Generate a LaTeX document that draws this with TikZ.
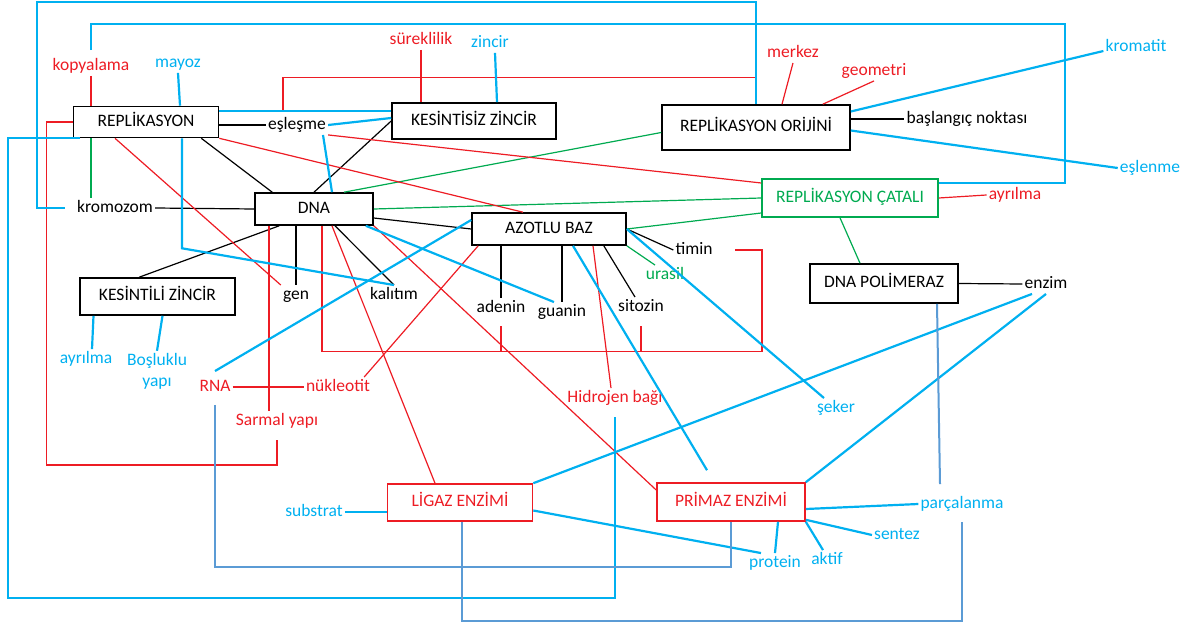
\documentclass[tikz,border=0pt]{standalone}
\usepackage{fontspec}
\setmainfont{Carlito}
\definecolor{kirmizi}{RGB}{237,28,36}
\definecolor{mavi}{RGB}{0,176,240}
\definecolor{yesil}{RGB}{0,170,80}
\definecolor{koyumavi}{RGB}{91,155,213}
\begin{document}
\begin{tikzpicture}[x=1pt, y=-1pt,
    every node/.style={font=\fontsize{17.5}{21}\selectfont, inner sep=2pt, text height=12pt, text depth=3.5pt},
    kutu/.style={draw, line width=1.6pt, inner sep=0pt},
    siyah/.style={line width=1.2pt},
    kcizgi/.style={kirmizi, line width=1.2pt},
    ycizgi/.style={yesil, line width=1.2pt},
    mcizgi/.style={mavi, line width=2.2pt},
    kmcizgi/.style={koyumavi, line width=2pt}]
    \useasboundingbox (0,0) rectangle (1190,628);
    \node[kutu, minimum width=145pt, minimum height=31pt] (repl) at (146,122) {REPLİKASYON};
    \node[kutu, minimum width=164pt, minimum height=36pt] (kesz) at (474,121) {KESİNTİSİZ ZİNCİR};
    \node[kutu, minimum width=188pt, minimum height=45pt] (orij) at (756,127.5) {REPLİKASYON ORİJİNİ};
    \node[kutu, minimum width=118pt, minimum height=32pt] (dna) at (314,209) {DNA};
    \node[kutu, minimum width=154pt, minimum height=32pt] (azot) at (549,229) {AZOTLU BAZ};
    \node[kutu, minimum width=155pt, minimum height=37pt] (kesl) at (157.5,296.5) {KESİNTİLİ ZİNCİR};
    \node[kutu, draw=yesil, text=yesil, minimum width=176pt, minimum height=38pt] (cat) at (850,198) {REPLİKASYON ÇATALI};
    \node[kutu, minimum width=148pt, minimum height=39pt] (pol) at (884,283.5) {DNA POLİMERAZ};
    \node[kutu, draw=kirmizi, text=kirmizi, minimum width=145pt, minimum height=37pt] (lig) at (460,502.5) {LİGAZ ENZİMİ};
    \node[kutu, draw=kirmizi, text=kirmizi, minimum width=148pt, minimum height=38pt] (prim) at (731,502) {PRİMAZ ENZİMİ};

    \node[text=kirmizi] (kop) at (91,66) {kopyalama};
    \node[text=mavi] (may) at (178,63) {mayoz};
    \node[text=kirmizi] (sur) at (421,40) {süreklilik};
    \node[text=mavi] (zin) at (490,43) {zincir};
    \node[text=kirmizi] (merk) at (793,53) {merkez};
    \node[text=kirmizi] (geo) at (874,71) {geometri};
    \node[text=mavi] (krt) at (1136,47) {kromatit};
    \node (bas) at (967,119) {başlangıç noktası};
    \node[text=mavi] (esn) at (1150,168) {eşlenme};
    \node[text=kirmizi] (ayr) at (1015,195) {ayrılma};
    \node (esl) at (297,125) {eşleşme};
    \node (krom) at (115,208) {kromozom};
    \node (gen) at (296,295) {gen};
    \node (kal) at (394,295) {kalıtım};
    \node (aden) at (501,308) {adenin};
    \node (guan) at (562,312) {guanin};
    \node (sito) at (641,307) {sitozin};
    \node (tim) at (694,250) {timin};
    \node[text=yesil] (ura) at (665,275) {urasil};
    \node (enz) at (1046,284) {enzim};
    \node[text=mavi] (ayrb) at (86,359) {ayrılma};
    \node[text=mavi, align=center, text height={}, text depth={}] (bos) at (157,371) {Boşluklu\\yapı};
    \node[text=kirmizi] (rna) at (215,387) {RNA};
    \node[text=kirmizi] (nuk) at (338,387) {nükleotit};
    \node[text=kirmizi] (sar) at (277,421) {Sarmal yapı};
    \node[text=kirmizi] (hid) at (615,398) {Hidrojen bağı};
    \node[text=mavi] (sek) at (836,408) {şeker};
    \node[text=mavi] (sub) at (314,512) {substrat};
    \node[text=mavi] (par) at (962,504) {parçalanma};
    \node[text=mavi] (sen) at (897,535) {sentez};
    \node[text=mavi] (prot) at (775,563) {protein};
    \node[text=mavi] (akt) at (827,560) {aktif};
    \coordinate (alt) at ([xshift=8pt,yshift=-126pt]dna.south);

    \draw[siyah] (repl.east |- esl) -- (esl.west);
    \draw[siyah] ([xshift=-18pt]repl.south east) -- ([xshift=18pt]dna.north west);
    \draw[siyah] (kesz.west) -- (dna.north);
    \draw[siyah] (krom.east) -- (dna.west);
    \draw[siyah] ([yshift=-9pt]dna.east) -- (azot.west);
    \draw[siyah] ([xshift=25pt]dna.south west) -- ([xshift=60pt]kesl.north west);
    \draw[siyah] (dna.south -| gen) -- (gen.north);
    \draw[siyah] ([xshift=21pt]dna.south) -- (kal.north);
    \draw[siyah] (azot.south -| aden) -- (aden.north);
    \draw[siyah] (azot.south -| guan) -- (guan.north);
    \draw[siyah] ([xshift=-23pt]azot.south east) -- ([xshift=-6pt]sito.north);
    \draw[siyah] (azot.east) -- (tim.west);
    \draw[siyah] (orij.east |- bas) -- (bas.west);
    \draw[siyah] (pol.east) -- (enz.west);

    \draw[ycizgi] (kop |- repl.south) -- (kop |- krom.north);
    \draw[ycizgi] ([yshift=-5pt]orij.west) -- ([xshift=30pt]dna.north);
    \draw[ycizgi] (dna.east) -- (cat.west);
    \draw[ycizgi] (azot.east) -- ([yshift=-15pt]cat.west);
    \draw[ycizgi] ([xshift=-10pt]cat.south) -- ([xshift=-24pt]pol.north);
    \draw[ycizgi] (azot.south east) -- ([xshift=-10pt]ura.north);

    \draw[kcizgi] (kop.south) -- (kop |- repl.north);
    \draw[kcizgi] (sur.south) -- (sur |- kesz.north);
    \draw[kcizgi] ([xshift=-14pt,yshift=4pt]esl.north) |- ([yshift=27pt]orij.north) -- (orij.north);
    \draw[kcizgi] (repl.west) -- ++(-26,0) -- ++(0,343) -| ([yshift=-9pt]sar.south);
    \draw[kcizgi] (repl.south east) -- ([xshift=-26pt]azot.north);
    \draw[kcizgi] (esl.south east) -- ([yshift=15pt]cat.west);
    \draw[kcizgi] ([xshift=-31pt]repl.south) -- (gen.north west);
    \draw[kcizgi] (cat.east) -- (ayr.west);
    \draw[kcizgi] ([xshift=26pt]orij.north) -- (merk.south);
    \draw[kcizgi] ([xshift=-28pt]orij.north east) -- (geo.south);
    \draw[kcizgi] ([xshift=8pt]dna.south) -- (alt) -- ++(440,0) |- ([xshift=20pt]tim.east);
    \draw[kcizgi] (aden |- alt) -- ++(0,-26);
    \draw[kcizgi] (sito |- alt) -- ++(0,-26);
    \draw[kcizgi] (rna.east) -- (nuk.west);
    \draw[kcizgi] ([xshift=-45pt]dna.south) -- ([xshift=-8pt]sar.north);
    \draw[kcizgi] ([xshift=-8pt]nuk.north east) -- ([xshift=7pt]azot.south west);
    \draw[kcizgi] ([xshift=18pt]dna.south) -- ([xshift=-25pt]lig.north);
    \draw[kcizgi] (dna.south east) -- ([yshift=12pt]prim.west);
    \draw[kcizgi] ([xshift=44pt]azot.south) -- ([xshift=-4pt]hid.north);

    \draw[mcizgi] ([xshift=-10pt]krom.west) -- ++(-28,0) |- ([yshift=102pt]orij.north) -- (orij.north);
    \draw[mcizgi] ([yshift=6pt]kop.north) -- ++(0,-26) -- ++(974,0) |- ([yshift=15pt]cat.east);
    \draw[mcizgi] (may.south) -- ([xshift=34pt]repl.north);
    \draw[mcizgi] ([xshift=5pt]zin.south) -- ([xshift=23pt]kesz.north);
    \draw[mcizgi] ([yshift=11pt]repl.east) -- ([yshift=10pt]kesz.west);
    \draw[mcizgi] (esl.east) -- ([yshift=3pt]kesz.west);
    \draw[mcizgi] ([xshift=26pt]esl.south) -- ([xshift=18pt]dna.north);
    \draw[mcizgi] ([xshift=36pt]repl.south) -- ++(0,110) -- (kal.north);
    \draw[mcizgi] ([xshift=7pt]repl.south west) -- ++(-72,0) -- ++(0,460) -| ([yshift=-9pt]hid.south);
    \draw[mcizgi] ([yshift=6pt]rna.north) -- ([yshift=9pt]azot.west);
    \draw[mcizgi] ([xshift=-8pt]dna.south east) -- ([xshift=-8pt]guan.north);
    \draw[mcizgi] ([xshift=24pt]azot.south) -- ([xshift=-24pt,yshift=12pt]prim.north);
    \draw[mcizgi] (azot.east) -- ([xshift=-12pt]sek.north);
    \draw[mcizgi] (lig.north east) -- ([xshift=-14pt]enz.south);
    \draw[mcizgi] (prim.north east) -- (enz.south);
    \draw[mcizgi] ([yshift=-8pt]lig.east) -- ([xshift=-14pt]prot.north);
    \draw[mcizgi] ([xshift=47pt]prim.south) -- (prot.north);
    \draw[mcizgi] (prim.south east) -- ([xshift=-4pt]akt.north);
    \draw[mcizgi] ([yshift=2pt]prim.south east) -- (sen.west);
    \draw[mcizgi] ([yshift=-7pt]prim.east) -- (par.west);
    \draw[mcizgi] (sub.east) -- (sub -| lig.west);
    \draw[mcizgi] ([xshift=-64pt]kesl.south) -- ([xshift=6pt]ayrb.north);
    \draw[mcizgi] ([xshift=5pt]kesl.south) -- (bos.north);
    \draw[mcizgi] ([yshift=16pt]orij.east) -- ([yshift=-4pt]krt.west);
    \draw[mcizgi] ([yshift=-3pt]orij.east) -- (esn.west);

    \draw[kmcizgi] ([yshift=-8pt]rna.south) -- ++(0,162) -| (prim.south);
    \draw[kmcizgi] ([xshift=2pt]lig.south) -- ++(0,99) -| ([yshift=-8pt]par.south);
    \draw[kmcizgi] ([xshift=53pt]pol.south) -- ([xshift=-22pt,yshift=10pt]par.north);
\end{tikzpicture}
\end{document}
